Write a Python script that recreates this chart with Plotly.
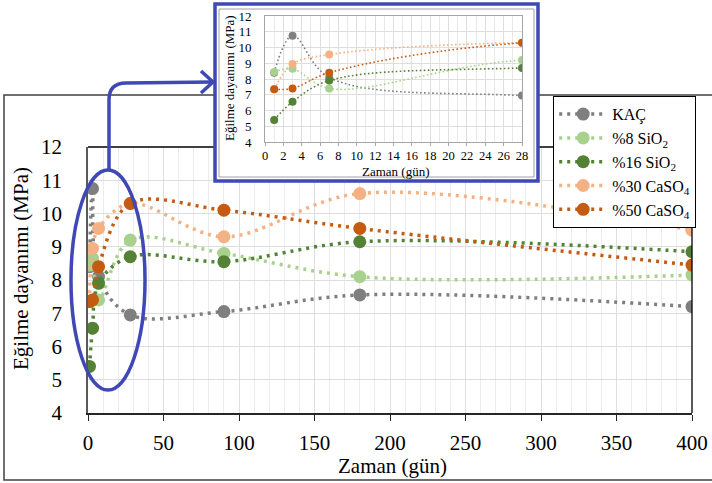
import plotly.graph_objects as go

W, H = 712, 483

# Flexural strength (MPa) versus curing time (days)
days = [1, 3, 7, 28, 90, 180, 400]
kac = [8.4, 10.75, 8.1, 6.95, 7.05, 7.55, 7.2]
sio2_8 = [8.45, 8.65, 7.4, 9.2, 8.8, 8.1, 8.15]
sio2_16 = [5.4, 6.55, 7.9, 8.7, 8.55, 9.15, 8.85]
caso4_30 = [7.35, 8.95, 9.55, 10.3, 9.3, 10.6, 9.5]
caso4_50 = [7.35, 7.4, 8.4, 10.3, 10.1, 9.55, 8.45]

names = ["KAÇ", "%8 SiO<sub>2</sub>", "%16 SiO<sub>2</sub>",
         "%30 CaSO<sub>4</sub>", "%50 CaSO<sub>4</sub>"]
series = [kac, sio2_8, sio2_16, caso4_30, caso4_50]
colors = ["#7f7f7f", "#a9d18e", "#548235", "#f4b183", "#c55a11"]

main_x_ticks = [0, 50, 100, 150, 200, 250, 300, 350, 400]
inset_x_ticks = list(range(0, 29, 2))
y_ticks = [4, 5, 6, 7, 8, 9, 10, 11, 12]

BLUE = "#3f48b4"
FONT = "Times New Roman"


def px(x):
    return x / W


def py(y):
    return 1 - y / H


def f(size):
    return dict(family=FONT, size=size, color="#000")


fig = go.Figure()

# main chart
for name, vals, col in zip(names, series, colors):
    fig.add_trace(go.Scatter(
        x=days, y=vals, name=name, mode="lines+markers",
        line=dict(color=col, width=3.5, dash="3px,5px", shape="spline"),
        marker=dict(color=col, size=13),
        xaxis="x", yaxis="y",
    ))

# zoomed inset for the first 28 days
for name, vals, col in zip(names, series, colors):
    fig.add_trace(go.Scatter(
        x=days, y=vals, name=name, mode="lines+markers", showlegend=False,
        line=dict(color=col, width=1.6, dash="1.6px,2.4px", shape="spline"),
        marker=dict(color=col, size=8),
        xaxis="x2", yaxis="y2",
    ))

grid = "#dedede"
fig.update_layout(
    template="none",
    width=W, height=H, autosize=False,
    margin=dict(l=0, r=0, t=0, b=0, pad=0, autoexpand=False),
    paper_bgcolor="white", plot_bgcolor="rgba(0,0,0,0)",
    font=f(14),
    xaxis=dict(
        domain=[px(88), px(692)], range=[0, 400], tickvals=main_x_ticks,
        showgrid=True, gridcolor=grid, gridwidth=1,
        minor=dict(dtick=10, showgrid=True, gridcolor="#ececec", gridwidth=1),
        showline=True, linecolor="#262626", linewidth=1.5,
        ticks="outside", ticklen=6, tickcolor="#262626",
        tickfont=f(21), ticklabelstandoff=4, zeroline=False,
        automargin=False,
    ),
    yaxis=dict(
        domain=[py(413), py(147)], range=[4, 12], tickvals=y_ticks,
        showgrid=True, gridcolor=grid, gridwidth=1,
        showline=True, linecolor="#595959", linewidth=1.5,
        ticks="", tickfont=f(21), ticklabelstandoff=20,
        zeroline=False, automargin=False,
    ),
    xaxis2=dict(
        domain=[px(265), px(522)], range=[0, 28], tickvals=inset_x_ticks,
        anchor="y2", showgrid=True, gridcolor=grid,
        minor=dict(dtick=1, showgrid=True, gridcolor="#e8e8e8"),
        showline=True, mirror=True, linecolor="#a6a6a6", linewidth=1,
        ticks="outside", ticklen=3, tickcolor="#a6a6a6",
        tickfont=f(12.5), ticklabelstandoff=-1, zeroline=False,
        automargin=False,
    ),
    yaxis2=dict(
        domain=[py(142), py(16)], range=[4, 12], tickvals=y_ticks,
        anchor="x2", showgrid=True, gridcolor=grid,
        showline=True, mirror=True, linecolor="#a6a6a6", linewidth=1,
        ticks="", tickfont=f(13), ticklabelstandoff=10,
        zeroline=False, automargin=False,
    ),
    legend=dict(
        x=px(553), y=py(96), xanchor="left", yanchor="top",
        bgcolor="white", bordercolor="#000", borderwidth=1.2,
        font=f(16), itemwidth=48, tracegroupgap=0,
    ),
    annotations=[
        dict(text="Eğilme dayanımı (MPa)", x=px(21), y=py(269), xref="paper",
             yref="paper", textangle=-90, showarrow=False,
             xanchor="center", yanchor="middle", font=f(21)),
        dict(text="Zaman (gün)", x=px(392), y=py(466), xref="paper",
             yref="paper", showarrow=False,
             xanchor="center", yanchor="middle", font=f(21)),
        dict(text="Eğilme dayanımı (MPa)", x=px(230), y=py(78), xref="paper",
             yref="paper", textangle=-90, showarrow=False,
             xanchor="center", yanchor="middle", font=f(13)),
        dict(text="Zaman (gün)", x=px(396), y=py(171), xref="paper",
             yref="paper", showarrow=False,
             xanchor="center", yanchor="middle", font=f(13)),
    ],
)

shapes = [
    # outer chart frame
    dict(type="rect", xref="paper", yref="paper", x0=px(4), x1=px(714),
         y0=py(480), y1=py(95), line=dict(color="#404040", width=1.5),
         layer="below"),
    # white chart area behind the inset
    dict(type="rect", xref="paper", yref="paper", x0=px(215), x1=px(538),
         y0=py(181), y1=py(4), fillcolor="white", line=dict(width=0),
         layer="below"),
    # hide the main grid where the inset overlaps the plot area
    dict(type="rect", xref="x", yref="y", x0=84, x1=298, y0=10.98, y1=12.2,
         fillcolor="white", line=dict(width=0), layer="between"),
    # main plot area top and right borders
    dict(type="line", xref="paper", yref="paper", x0=px(88), x1=px(215),
         y0=py(147), y1=py(147), line=dict(color="#000", width=1.3),
         layer="above"),
    dict(type="line", xref="paper", yref="paper", x0=px(538), x1=px(692),
         y0=py(147), y1=py(147), line=dict(color="#000", width=1.3),
         layer="above"),
    dict(type="line", xref="paper", yref="paper", x0=px(692), x1=px(692),
         y0=py(413), y1=py(147), line=dict(color="#000", width=1.3),
         layer="above"),
    # inset frames
    dict(type="rect", xref="paper", yref="paper", x0=px(219), x1=px(534),
         y0=py(177), y1=py(9), line=dict(color="#a0a0a0", width=1),
         layer="above"),
    dict(type="rect", xref="paper", yref="paper", x0=px(215), x1=px(538),
         y0=py(181), y1=py(4), line=dict(color=BLUE, width=3.5),
         layer="above"),
    # ellipse highlighting the early-age points
    dict(type="circle", xref="paper", yref="paper", x0=px(71), x1=px(145),
         y0=py(390), y1=py(170), line=dict(color=BLUE, width=3.5),
         layer="above"),
    # connector arrow to the inset
    dict(type="path", xref="paper", yref="paper",
         path=(f"M {px(109)},{py(170)} L {px(109)},{py(100)} "
               f"Q {px(109)},{py(83)} {px(126)},{py(83)} "
               f"L {px(213)},{py(82)}"),
         line=dict(color=BLUE, width=3.5), layer="above"),
    dict(type="path", xref="paper", yref="paper",
         path=(f"M {px(201)},{py(71)} L {px(213)},{py(82)} "
               f"L {px(201)},{py(93)}"),
         line=dict(color=BLUE, width=3.5), layer="above"),
]
fig.update_layout(shapes=shapes)

fig.write_html("out.html")
